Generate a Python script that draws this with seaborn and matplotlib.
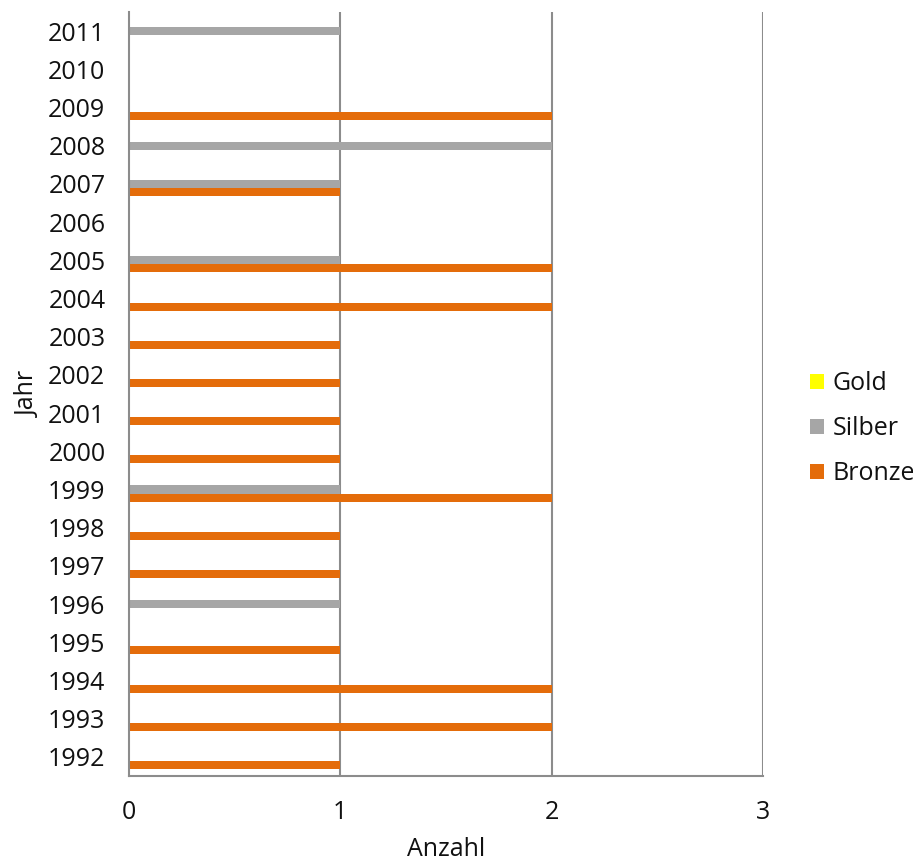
import matplotlib
matplotlib.use("Agg")
import matplotlib.pyplot as plt
from matplotlib.patches import Patch
import seaborn as sns
import pandas as pd

# Medal counts per year (top to bottom: 2011 ... 1992)
years = ["2011", "2010", "2009", "2008", "2007", "2006", "2005", "2004", "2003", "2002",
         "2001", "2000", "1999", "1998", "1997", "1996", "1995", "1994", "1993", "1992"]
gold = [0] * 20
silber = [1, 0, 0, 2, 1, 0, 1, 0, 0, 0, 0, 0, 1, 0, 0, 1, 0, 0, 0, 0]
bronze = [0, 0, 2, 0, 1, 0, 2, 2, 1, 1, 1, 1, 2, 1, 1, 0, 1, 2, 2, 1]
medals = ["Gold", "Silber", "Bronze"]
colors = {"Gold": "#FFFF00", "Silber": "#A6A6A6", "Bronze": "#E46C0A"}
x_ticks = [0, 1, 2, 3]

df = pd.DataFrame({
    "Jahr": years * 3,
    "Medaille": ["Gold"] * 20 + ["Silber"] * 20 + ["Bronze"] * 20,
    "Anzahl": gold + silber + bronze,
})

sns.set_style("white")
plt.rcParams["font.family"] = ["Open Sans", "DejaVu Sans"]
plt.rcParams["text.color"] = "#111111"
plt.rcParams["xtick.labelcolor"] = "#111111"
plt.rcParams["ytick.labelcolor"] = "#111111"
plt.rcParams["axes.labelcolor"] = "#111111"

FS = 18

fig = plt.figure(figsize=(9.13, 8.63), dpi=100)
ax = fig.add_axes([0.1413, 0.1008, 0.6944, 0.8853])

sns.barplot(data=df, x="Anzahl", y="Jahr", hue="Medaille", order=years,
            hue_order=medals, palette=colors, orient="h", width=0.63,
            dodge=True, ax=ax, legend=False, saturation=1, edgecolor="none")

grid_c = "#8C8C8C"
ax.set_xlim(0, 3)
ax.set_xticks(x_ticks)
ax.set_xticklabels([str(t) for t in x_ticks])
ax.set_ylim(len(years) - 0.5, -0.5)
ax.set_yticks(range(len(years)))
ax.set_yticklabels(years)
ax.set_yticks([i - 0.5 for i in range(len(years) + 1)], minor=True)
ax.tick_params(axis="y", which="major", length=0, pad=17, labelsize=FS)
ax.tick_params(axis="y", which="minor", length=8, width=1.5, color=grid_c)
ax.tick_params(axis="x", which="major", length=8, width=1.5, color=grid_c,
               labelsize=FS, pad=9)

for v in x_ticks[1:]:
    ax.axvline(v, color=grid_c, lw=1.5, zorder=0)

for s in ["top", "right"]:
    ax.spines[s].set_visible(False)
for s in ["left", "bottom"]:
    ax.spines[s].set_color(grid_c)
    ax.spines[s].set_linewidth(1.5)

ax.set_xlabel("Anzahl", fontsize=FS, labelpad=9)
ax.set_ylabel("Jahr", fontsize=FS, labelpad=5)

handles = [Patch(facecolor=colors[m], edgecolor="none", label=m) for m in medals]
fig.legend(handles=handles, loc="center left", bbox_to_anchor=(0.887, 0.503),
           frameon=False, fontsize=FS, handlelength=0.55, handleheight=0.55,
           handletextpad=0.35, labelspacing=0.8, borderpad=0, borderaxespad=0)

fig.savefig("out.png", dpi=100)
